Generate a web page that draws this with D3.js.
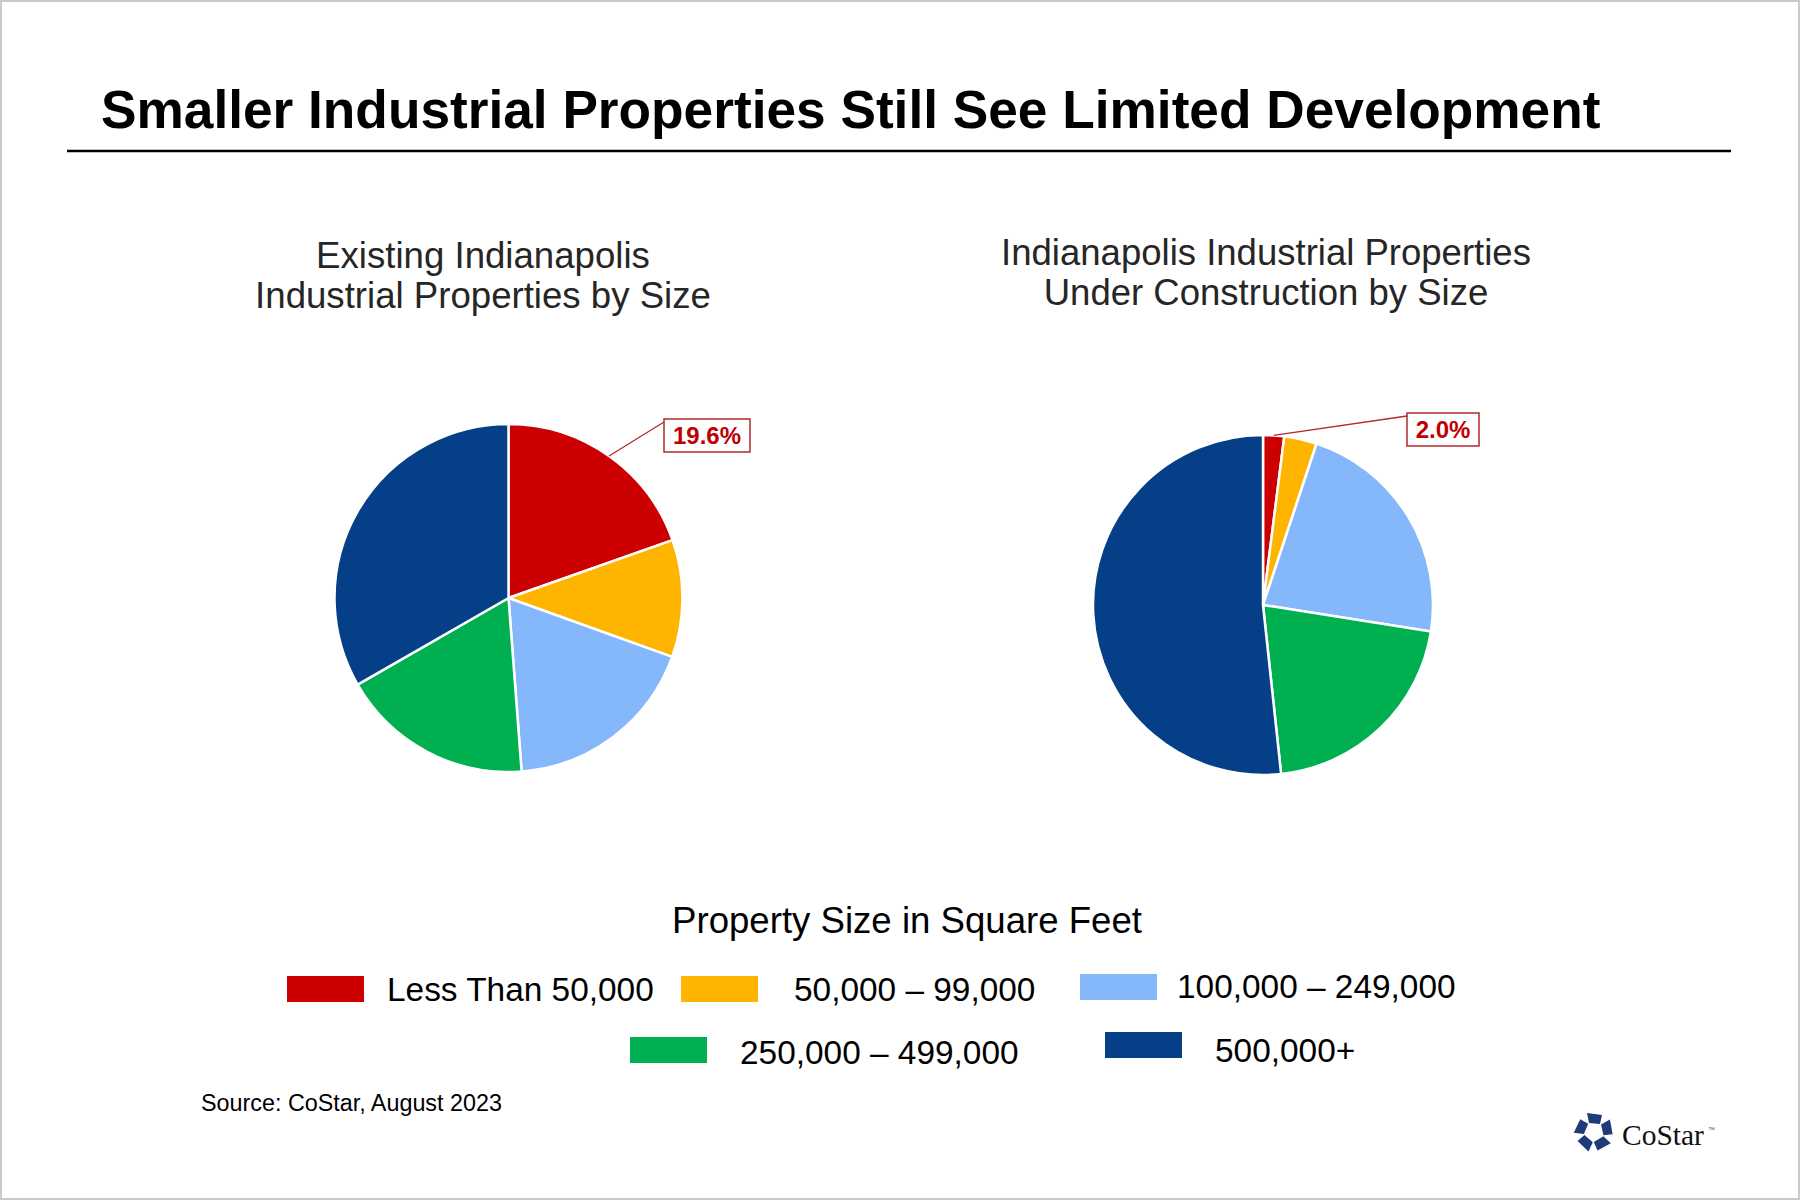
<!DOCTYPE html>
<html>
<head>
<meta charset="utf-8">
<script src="https://cdn.jsdelivr.net/npm/d3@7"></script>
<style>
  html, body { margin: 0; padding: 0; background: #fff; }
  svg { display: block; }
</style>
</head>
<body>
<div id="container"></div>
<script>
//------------------------1. PREPARATION-------------------------//
//-----------------------------DATA------------------------------//
const sizeClasses = ["Less Than 50,000", "50,000 – 99,000", "100,000 – 249,000",
                     "250,000 – 499,000", "500,000+"];
const existingShare = [19.6, 10.9, 18.3, 17.9, 33.3];
const constructionShare = [2.0, 3.1, 22.4, 20.8, 51.7];
const sliceColors = ["#CC0000", "#FFB400", "#84B8FA", "#00AF50", "#053F87"];

const chartTitle = "Smaller Industrial Properties Still See Limited Development";
const leftTitle = ["Existing Indianapolis", "Industrial Properties by Size"];
const rightTitle = ["Indianapolis Industrial Properties", "Under Construction by Size"];
const legendTitle = "Property Size in Square Feet";
const sourceNote = "Source: CoStar, August 2023";

//-----------------------------SVG-------------------------------//
const width = 1800;
const height = 1200;
const sans = "'Liberation Sans', Arial, sans-serif";

const svg = d3.select("div#container").append("svg")
    .attr("width", width)
    .attr("height", height)
    .attr("font-family", sans);

// frame
svg.append("rect")
    .attr("x", 1).attr("y", 1)
    .attr("width", width - 2).attr("height", height - 2)
    .attr("fill", "#fff")
    .attr("stroke", "#c9c9c9")
    .attr("stroke-width", 2);

// shrink / grow a text until its widest line is the wanted width
function fitWidth(sel, target) {
  let w = 0;
  const spans = sel.selectAll("tspan");
  if (spans.empty()) {
    w = sel.node().getComputedTextLength();
  } else {
    spans.each(function () { w = Math.max(w, this.getComputedTextLength()); });
  }
  const fs = parseFloat(sel.attr("font-size"));
  sel.attr("font-size", fs * target / w);
}

//----------------------------TITLE------------------------------//
const title = svg.append("text")
    .attr("x", 101).attr("y", 128)
    .attr("font-size", 50)
    .attr("font-weight", "bold")
    .attr("fill", "#000")
    .text(chartTitle);
fitWidth(title, 1500);

svg.append("line")
    .attr("x1", 67).attr("x2", 1731)
    .attr("y1", 151).attr("y2", 151)
    .attr("stroke", "#000")
    .attr("stroke-width", 2.5);

//----------------------------PIES-------------------------------//
const pie = d3.pie().sort(null).value(d => d);

function drawPie(values, cx, cy, r, titleLines, titleX, titleY, titleW, labelBox) {
  const g = svg.append("g").attr("transform", `translate(${cx},${cy})`);
  const arc = d3.arc().innerRadius(0).outerRadius(r);
  const arcs = pie(values);

  g.selectAll("path.slice")
    .data(arcs)
    .join("path")
    .attr("class", "slice")
    .attr("d", arc)
    .attr("fill", (d, i) => sliceColors[i])
    .attr("stroke", "#fff")
    .attr("stroke-width", 2.5)
    .attr("stroke-linejoin", "round");

  // sub title
  const t = svg.append("text")
      .attr("x", titleX).attr("y", titleY)
      .attr("text-anchor", "middle")
      .attr("font-size", 33)
      .attr("fill", "#262626");
  titleLines.forEach((line, i) => {
    t.append("tspan").attr("x", titleX).attr("dy", i === 0 ? 0 : 40).text(line);
  });
  fitWidth(t, titleW);

  // label of the first slice, with a leader line
  const first = arcs[0];
  const mid = (first.startAngle + first.endAngle) / 2;
  const px = cx + r * Math.sin(mid);
  const py = cy - r * Math.cos(mid);
  svg.append("line")
      .attr("x1", px).attr("y1", py)
      .attr("x2", labelBox.x).attr("y2", labelBox.y + 3)
      .attr("stroke", "#B22A2A")
      .attr("stroke-width", 1.3);
  svg.append("rect")
      .attr("x", labelBox.x).attr("y", labelBox.y)
      .attr("width", labelBox.w).attr("height", 33)
      .attr("fill", "#fff")
      .attr("stroke", "#B22A2A")
      .attr("stroke-width", 1.5);
  svg.append("text")
      .attr("x", labelBox.x + labelBox.w / 2).attr("y", labelBox.y + 25)
      .attr("text-anchor", "middle")
      .attr("font-size", 24)
      .attr("font-weight", "bold")
      .attr("fill", "#C00000")
      .text(d3.format(".1f")(values[0]) + "%");
}

drawPie(existingShare, 508.5, 598, 174, leftTitle, 483, 268, 456, {x: 664, y: 419, w: 86});
drawPie(constructionShare, 1263, 605, 170, rightTitle, 1266, 265, 530, {x: 1407, y: 413, w: 72});

//----------------------------LEGEND-----------------------------//
const legTitle = svg.append("text")
    .attr("x", 907).attr("y", 933)
    .attr("text-anchor", "middle")
    .attr("font-size", 33)
    .attr("fill", "#000")
    .text(legendTitle);
fitWidth(legTitle, 470);

// placement of each legend entry: swatch x, swatch y, text x, text baseline
const legendSpots = [
  {sx: 287,  sy: 976,  tx: 387,  ty: 1001},
  {sx: 681,  sy: 976,  tx: 794,  ty: 1001},
  {sx: 1080, sy: 974,  tx: 1177, ty: 998},
  {sx: 630,  sy: 1037, tx: 740,  ty: 1064},
  {sx: 1105, sy: 1032, tx: 1215, ty: 1062}
];

const legend = svg.append("g").selectAll("g")
    .data(sizeClasses)
    .join("g");

legend.append("rect")
    .attr("x", (d, i) => legendSpots[i].sx)
    .attr("y", (d, i) => legendSpots[i].sy)
    .attr("width", 77)
    .attr("height", 26)
    .attr("fill", (d, i) => sliceColors[i]);

legend.append("text")
    .attr("x", (d, i) => legendSpots[i].tx)
    .attr("y", (d, i) => legendSpots[i].ty)
    .attr("font-size", 33.4)
    .attr("fill", "#000")
    .text(d => d);

//----------------------------SOURCE-----------------------------//
const src = svg.append("text")
    .attr("x", 201).attr("y", 1111)
    .attr("font-size", 22)
    .attr("fill", "#000")
    .text(sourceNote);
fitWidth(src, 301);

//-----------------------------LOGO------------------------------//
const logo = svg.append("g").attr("transform", "translate(1594,1132)");
d3.range(5).forEach(k => {
  logo.append("path")
      .attr("d", "M-7,-19 L8,-17 L6,-8 L-5,-9 Z")
      .attr("transform", `rotate(${k * 72})`)
      .attr("fill", "#1E3A78");
});
const brand = svg.append("text")
    .attr("x", 1622).attr("y", 1145)
    .attr("font-family", "'Liberation Serif', 'DejaVu Serif', serif")
    .attr("font-size", 30)
    .attr("fill", "#111")
    .text("CoStar");
fitWidth(brand, 82);
svg.append("text")
    .attr("x", 1708).attr("y", 1132)
    .attr("font-size", 7)
    .attr("fill", "#555")
    .text("™");
</script>
</body>
</html>
